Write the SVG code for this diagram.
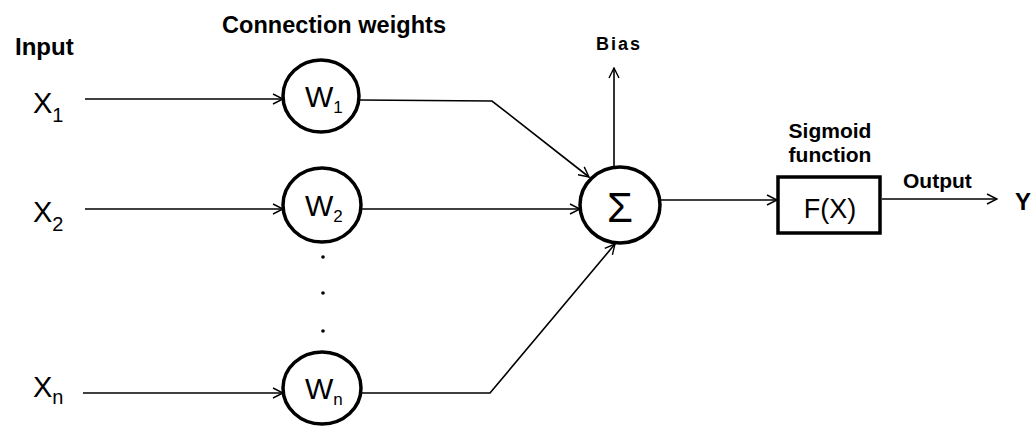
<svg xmlns="http://www.w3.org/2000/svg" width="1031" height="426" viewBox="0 0 1031 426">
<defs>
<marker id="arr" viewBox="0 0 12 12" refX="11" refY="6" markerWidth="12" markerHeight="12" markerUnits="userSpaceOnUse" orient="auto">
<path d="M1,1 L11,6 L1,11" fill="none" stroke="#000" stroke-width="1.4"/>
</marker>
<style>
.node{fill:#fff;stroke:#000;stroke-width:3.5}
.conn{fill:none;stroke:#000;stroke-width:1.6;marker-end:url(#arr)}
.lbl{font-family:"Liberation Sans",Arial,sans-serif;font-weight:bold;fill:#000}
.sym{font-family:"Liberation Sans",Arial,sans-serif;fill:#000}
</style>
</defs>
<rect width="1031" height="426" fill="#fff"/>
<g id="labels">
<text class="lbl" x="15" y="55" font-size="24">Input</text>
<text class="lbl" x="222" y="33" font-size="23.5" textLength="224">Connection weights</text>
<text class="lbl" x="596" y="50" font-size="18" textLength="44">Bias</text>
<text class="lbl" x="830" y="138" font-size="21" text-anchor="middle">Sigmoid</text>
<text class="lbl" x="830" y="162" font-size="21" text-anchor="middle">function</text>
<text class="lbl" x="903" y="188" font-size="21">Output</text>
</g>
<g id="x1"><text class="sym" x="33" y="113" font-size="29">X<tspan font-size="20" dy="9">1</tspan></text></g>
<g id="x2"><text class="sym" x="33" y="222" font-size="29">X<tspan font-size="20" dy="9">2</tspan></text></g>
<g id="xn"><text class="sym" x="33" y="397" font-size="29">X<tspan font-size="20" dy="7">n</tspan></text></g>
<g id="w1"><ellipse class="node" cx="321" cy="96" rx="38" ry="36"/><text class="sym" x="305" y="107" font-size="30">W<tspan font-size="17" dy="6">1</tspan></text></g>
<g id="w2"><ellipse class="node" cx="322" cy="205" rx="39" ry="37"/><text class="sym" x="305" y="216" font-size="30">W<tspan font-size="17" dy="6">2</tspan></text></g>
<g id="dots"><circle cx="323" cy="257" r="1.8"/><circle cx="323" cy="293" r="1.8"/><circle cx="323" cy="331" r="1.8"/></g>
<g id="wn"><ellipse class="node" cx="322" cy="388" rx="39" ry="36"/><text class="sym" x="305" y="399" font-size="30">W<tspan font-size="17" dy="6">n</tspan></text></g>
<g id="sum"><ellipse class="node" cx="620" cy="205" rx="40" ry="38"/><text class="sym" x="620" y="222" font-size="42" text-anchor="middle">Σ</text></g>
<g id="fx"><rect class="node" x="778" y="177" width="102" height="56" stroke-width="3"/><text class="sym" x="830" y="218" font-size="27" text-anchor="middle">F(X)</text></g>
<g id="y"><text class="lbl" x="1015" y="210" font-size="24">Y</text></g>
<g id="connectors">
<path class="conn" d="M85,99 L283,99"/>
<path class="conn" d="M85,209 L283,209"/>
<path class="conn" d="M83,393 L283,393"/>
<path class="conn" d="M359,100 L492,101 L589,177"/>
<path class="conn" d="M361,209 L580,209"/>
<path class="conn" d="M361,393 L490,393 L615,244"/>
<path class="conn" d="M614,167 L614,68" stroke-width="2"/>
<path class="conn" d="M660,200 L777,200"/>
<path class="conn" d="M882,199 L997,199"/>
</g>
</svg>
